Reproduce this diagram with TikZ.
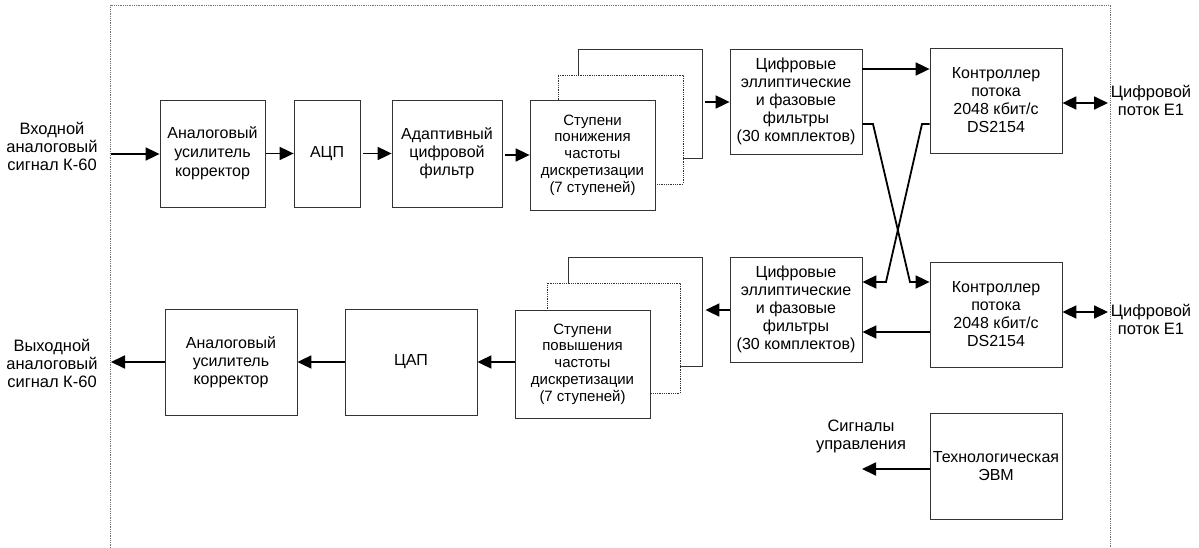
\documentclass[tikz,border=0pt]{standalone}
\usepackage{fontspec}
\setmainfont{Liberation Sans}
\usetikzlibrary{arrows.meta}
\begin{document}
\begin{tikzpicture}[x=1pt,y=-1pt,
  blk/.style={draw=black!80, line width=0.8pt, fill=white, align=center, inner sep=1pt,
    font=\fontsize{16}{18}\selectfont},
  blks/.style={blk, font=\fontsize{15}{16.7}\selectfont},
  blkd/.style={blk, densely dotted},
  lbl/.style={align=center, font=\fontsize{16.5}{18}\selectfont},
  arr/.style={line width=1.8pt, -{Triangle[length=14pt,width=13pt]}},
  darr/.style={line width=1.8pt, {Triangle[length=14pt,width=13pt]}-{Triangle[length=14pt,width=13pt]}},
  frame/.style={draw=black!55, densely dotted, line width=0.8pt}]
\useasboundingbox (0,0) rectangle (1199,548);
\fill[white] (0,0) rectangle (1199,548);
\draw[frame] (110,548) -- (110,5) -- (1110,5) -- (1110,548);

% top row
\node[blk, minimum width=105pt, minimum height=107pt, font=\fontsize{16}{19}\selectfont] (a1) at (212.5,153.5) {Аналоговый\\усилитель\\корректор};
\node[blk, minimum width=66pt, minimum height=107pt] (adc) at (327,153.5) {АЦП};
\node[blk, minimum width=110pt, minimum height=107pt] (adf) at (447,153.5) {Адаптивный\\цифровой\\фильтр};
\node[blk, minimum width=124pt, minimum height=109pt] (sdback) at (640,103.5) {};
\node[blkd, minimum width=125pt, minimum height=109pt] (sdmid) at (620.5,129.5) {};
\node[blks, minimum width=125pt, minimum height=110pt] (sd) at (592.5,155) {Ступени\\понижения\\частоты\\дискретизации\\(7 ступеней)};
\node[blk, minimum width=132pt, minimum height=105pt] (ft) at (796,101.5) {Цифровые\\эллиптические\\и фазовые\\фильтры\\(30 комплектов)};
\node[blk, minimum width=132pt, minimum height=105pt] (ct) at (996,100.5) {Контроллер\\потока\\2048 кбит/с\\DS2154};

% bottom row
\node[blk, minimum width=132pt, minimum height=105pt] (fb) at (796,309.5) {Цифровые\\эллиптические\\и фазовые\\фильтры\\(30 комплектов)};
\node[blk, minimum width=132pt, minimum height=105pt] (cb) at (996,314.5) {Контроллер\\потока\\2048 кбит/с\\DS2154};
\node[blk, minimum width=134pt, minimum height=109pt] (suback) at (635,311.5) {};
\node[blkd, minimum width=133pt, minimum height=110pt] (sumid) at (613.5,338) {};
\node[blks, minimum width=135pt, minimum height=108pt] (su) at (582.5,364) {Ступени\\повышения\\частоты\\дискретизации\\(7 ступеней)};
\node[blk, minimum width=132pt, minimum height=106pt] (dac) at (411,362) {ЦАП};
\node[blk, minimum width=132pt, minimum height=106pt] (a2) at (231,362) {Аналоговый\\усилитель\\корректор};
\node[blk, minimum width=132pt, minimum height=106pt] (tech) at (996,466) {Технологическая\\ЭВМ};

% labels
\node[lbl] (inl) at (52,146) {Входной\\аналоговый\\сигнал К-60};
\node[lbl] (outl) at (52,363) {Выходной\\аналоговый\\сигнал К-60};
\node[lbl] (e1t) at (1151,100) {Цифровой\\поток E1};
\node[lbl] (e1b) at (1151,319) {Цифровой\\поток E1};
\node[lbl] (ctrl) at (861,436) {Сигналы\\управления};

\coordinate (inp) at (111,154);
\coordinate (outp) at (111,362);
\coordinate (e1tp) at (1108,103);
\coordinate (e1bp) at (1108,312);
\coordinate (ctrlp) at (862,469);

% top connectors
\draw[arr] (inp) -- (inp -| a1.west);
\draw[arr, shorten <=1pt] (a1.east) -- (adc.west);
\draw[arr, shorten <=3pt] (adc.east) -- (adf.west);
\draw[arr, shorten <=3pt] (adf.east |- 0,155) -- (sd.west |- 0,155);
\draw[arr, shorten <=3pt] (sdback.east |- 0,102) -- (ft.west |- 0,102);
\draw[arr] (ft.east |- 0,69) -- (ct.west |- 0,69);
\draw[darr] (ct.east |- e1tp) -- (e1tp);

% cross
\draw[arr] (ft.east |- 0,124) -- (873,124) -- (910,282) -- (cb.west |- 0,282);
\draw[arr] (ct.west |- 0,124) -- (922,124) -- (886,282) -- (fb.east |- 0,282);

% bottom connectors
\draw[darr] (cb.east |- e1bp) -- (e1bp);
\draw[arr] (cb.west |- 0,332) -- (fb.east |- 0,332);
\draw[arr] (fb.west |- 0,310) -- ([xshift=3pt]suback.east |- 0,310);
\draw[arr] (su.west |- 0,362) -- (dac.east |- 0,362);
\draw[arr] (dac.west) -- (a2.east);
\draw[arr] (a2.west) -- (outp);
\draw[arr] (tech.west |- ctrlp) -- (ctrlp);
\end{tikzpicture}
\end{document}
